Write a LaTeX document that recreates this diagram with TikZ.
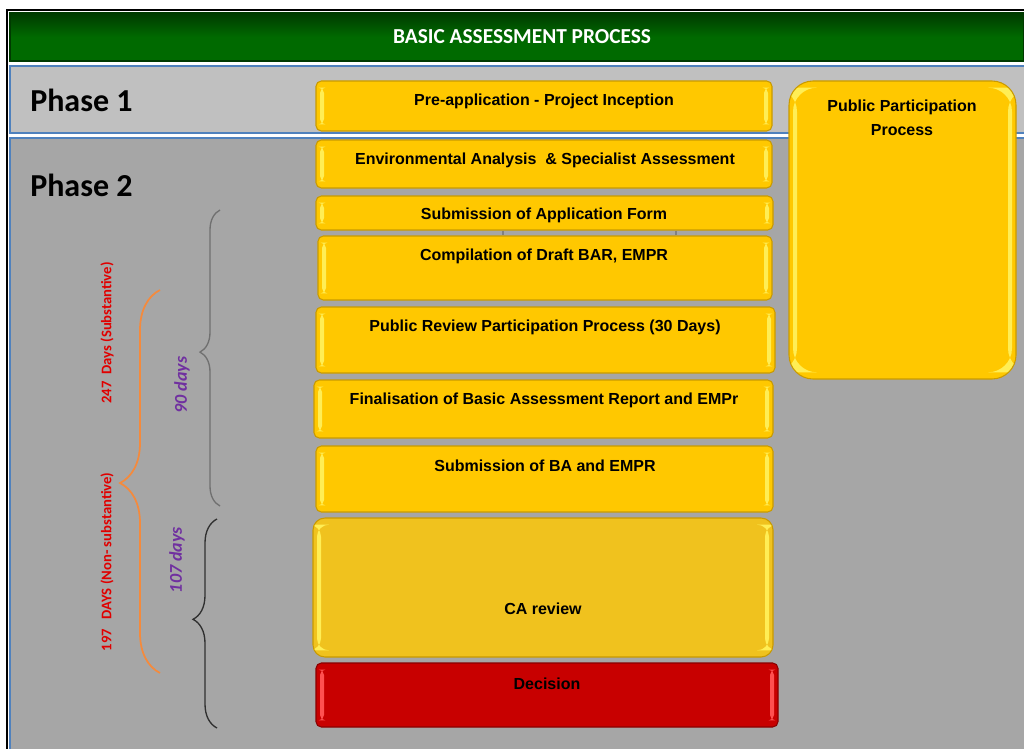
\documentclass[tikz,border=0pt]{standalone}
\usepackage{fontspec}
\setmainfont{Liberation Sans}
\newfontfamily\calibri{Carlito}
\usetikzlibrary{fit,decorations.pathreplacing}
\definecolor{ymain}{HTML}{FFC800}
\definecolor{ydark}{HTML}{C99A00}
\definecolor{ylight}{HTML}{FFEE55}
\definecolor{camain}{HTML}{F0C21E}
\definecolor{rmain}{HTML}{C80000}
\definecolor{rdark}{HTML}{8A0000}
\definecolor{rlight}{HTML}{FF5050}
\definecolor{gmain}{HTML}{006A00}
\definecolor{gdark}{HTML}{003A00}
\definecolor{pone}{HTML}{C0C0C0}
\definecolor{ptwo}{HTML}{A6A6A6}
\definecolor{bline}{HTML}{4F81BD}
\definecolor{redtxt}{HTML}{E00000}
\definecolor{purp}{HTML}{7030A0}
\definecolor{orng}{HTML}{F58A3C}
\definecolor{graybr}{HTML}{707070}
\definecolor{blackbr}{HTML}{303030}
\tikzset{
  bevel/.style={path picture={
    \fill[#1] ([shift={(3pt,-5pt)}]path picture bounding box.north west) rectangle ([shift={(6pt,5pt)}]path picture bounding box.south west);
    \fill[#1] ([shift={(-6pt,-5pt)}]path picture bounding box.north east) rectangle ([shift={(-3pt,5pt)}]path picture bounding box.south east);
  }},
  ybox/.style={draw=ydark, fill=ymain, rounded corners=4pt, line width=0.8pt, inner sep=0pt, bevel=ylight},
  cabox/.style={ybox, fill=camain, rounded corners=9pt},
  rbox/.style={draw=rdark, fill=rmain, rounded corners=4pt, line width=0.8pt, inner sep=0pt, bevel=rlight},
  ppbox/.style={ybox, rounded corners=18pt},
  btext/.style={font=\bfseries\fontsize{12}{14}\selectfont, text=black, inner sep=0pt},
  phase/.style={font=\calibri\bfseries\fontsize{24}{27}\selectfont, anchor=west, inner sep=0pt},
  daysred/.style={rotate=90, text=redtxt, font=\calibri\bfseries\fontsize{11}{13}\selectfont, inner sep=0pt},
  dayspurp/.style={rotate=90, text=purp, font=\calibri\bfseries\itshape\fontsize{13.5}{16}\selectfont, inner sep=0pt},
  tickc/.style={draw=gray, line width=0.8pt},
}
\begin{document}
\begin{tikzpicture}[x=0.75pt,y=-0.75pt]
\useasboundingbox[fill=white] (0,0) rectangle (1024,749);
% frame
\draw[line width=1.6pt] (7,749) -- (7,10) -- (1024,10);
% header
\node[top color=gdark, bottom color=gmain, middle color=gmain, draw=gdark, line width=1pt, fit={(10,13) (1024,61)}, inner sep=0pt] (hdr) {};
\node[text=white, font=\calibri\bfseries\fontsize{16}{18}\selectfont] (title) at (522,37) {BASIC ASSESSMENT PROCESS};
% phase bands
\fill[pone] (10,66) rectangle (1024,133);
\draw[bline, line width=0.8pt] (1024,66) -- (10,66) -- (10,133) -- (1024,133);
\fill[ptwo] (10,138) rectangle (1024,749);
\draw[bline, line width=0.8pt] (1024,138) -- (10,138) -- (10,749);
\node[phase] (p1) at (30,100) {Phase 1};
\node[phase] (p2) at (30,185) {Phase 2};
% public participation
\node[ppbox, fit={(789,81) (1016,379)}] (pp) {};
\node[btext, align=center, font=\bfseries\fontsize{12}{18}\selectfont] (ppt) at (902,118) {Public Participation\\Process};
% steps
\node[ybox, fit={(316,81) (772,131)}] (b1) {};
\node[btext] (t1) at (544,101) {Pre-application - Project Inception};
\node[ybox, fit={(316,140) (772,188)}] (b2) {};
\node[btext] (t2) at (545,160) {Environmental Analysis \ \& Specialist Assessment};
\node[ybox, fit={(316,196) (773,230)}] (b3) {};
\node[btext] (t3) at (544,215) {Submission of Application Form};
\node[ybox, fit={(318,236) (772,300)}] (b4) {};
\node[btext] (t4) at (544,256) {Compilation of Draft BAR, EMPR};
\node[ybox, fit={(316,307) (775,373)}] (b5) {};
\node[btext] (t5) at (545,327) {Public Review Participation Process (30 Days)};
\node[ybox, fit={(314,380) (773,438)}] (b6) {};
\node[btext] (t6) at (544,400) {Finalisation of Basic Assessment Report and EMPr};
\node[ybox, fit={(316,446) (773,512)}] (b7) {};
\node[btext] (t7) at (545,466) {Submission of BA and EMPR};
\node[cabox, fit={(313,518) (773,657)}] (b8) {};
\node[btext] (t8) at (543,609) {CA review};
\node[rbox, fit={(316,663) (778,727)}] (b9) {};
\node[btext] (t9) at (547,684) {Decision};
% small ticks between b3 and b4
\coordinate (k1) at (503,0);
\coordinate (k2) at (676,0);
\draw[tickc] (b3.south -| k1) -- (b4.north -| k1);
\draw[tickc] (b3.south -| k2) -- (b4.north -| k2);
% braces
\draw[graybr, line width=1pt, decorate, decoration={brace, amplitude=15pt, aspect=0.52}] (220,506) -- (220,210);
\draw[blackbr, line width=1pt, decorate, decoration={brace, amplitude=18pt, aspect=0.52}] (217,728) -- (217,519);
\draw[orng, line width=1.3pt, decorate, decoration={brace, amplitude=30pt, aspect=0.496}] (160,673) -- (160,290);
% labels
\node[daysred] (s247) at (107,333) {247\ \ Days (Substantive)};
\node[daysred] (s197) at (107,562) {197\ \ \ DAYS (Non- substantive)};
\node[dayspurp] (d90) at (182,385) {90 days};
\node[dayspurp] (d107) at (177,560) {107 days};
\end{tikzpicture}
\end{document}
